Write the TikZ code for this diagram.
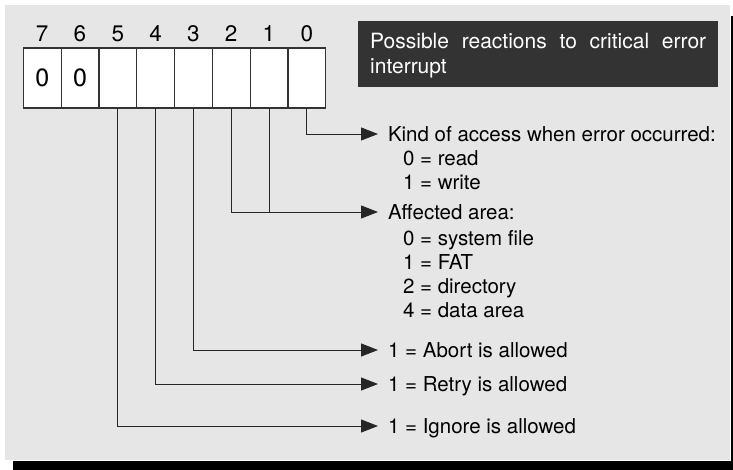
\documentclass[tikz,border=0pt]{standalone}
\usepackage{fontspec}
\setmainfont{TeX Gyre Heros}
\usetikzlibrary{arrows.meta}
\definecolor{panel}{HTML}{E6E6E6}
\definecolor{titlebg}{HTML}{333333}
\begin{document}
\begin{tikzpicture}[x=1pt,y=-1pt,
  lbl/.style={font=\fontsize{20.5}{25}\selectfont, inner sep=0pt, outer sep=0pt, anchor=west, text height=14.7pt, text depth=0pt},
  bitnum/.style={font=\fontsize{22.5}{26}\selectfont, inner sep=0pt, text height=16pt, text depth=0pt},
  conn/.style={draw=black!85, line width=1pt},
  arr/.style={conn, -{Triangle[length=17pt,width=13pt]}},
  cell/.style={draw=black!80, line width=1.2pt, fill=white, minimum width=37.8pt, minimum height=60pt, inner sep=0pt, outer sep=0pt},
  zero/.style={font=\fontsize{25}{28}\selectfont, inner sep=0pt, text height=17.5pt, text depth=0pt},
]
\useasboundingbox (0,0) rectangle (733,469);
\fill[white] (0,0) rectangle (733,469);
\fill[black] (13,16) rectangle (745,480);
\filldraw[fill=panel, draw=white, line width=1.2pt] (4,4) rectangle (730.5,460.8);

% title box
\node[fill=titlebg, minimum width=360pt, minimum height=65.7pt, inner sep=0pt] (title) at (538.2,53.8) {};
\node[text=white, font=\fontsize{21}{25}\selectfont, align=left, inner sep=0pt, anchor=base west] (titletext) at (370,73.3) {\makebox[336pt][s]{Possible reactions to critical error}\\interrupt};

% register cells and bit numbers
\foreach \b [count=\i from 0] in {7,6,5,4,3,2,1,0} {
  \node[cell] (c\b) at ({23.3+37.8*(\i+0.5)},78) {};
  \node[bitnum] (n\b) at ({23.3+37.8*(\i+0.5)},33.5) {\b};
}
\node[zero] (z7) at (c7) {0};
\node[zero] (z6) at (c6) {0};

% texts
\node[lbl] (kind) at (388,134) {Kind of access when error occurred:};
\node[lbl] (read) at (403,158) {0 = read};
\node[lbl] (write) at (403,182) {1 = write};
\node[lbl] (aff) at (388,212) {Affected area:};
\node[lbl] (sys) at (403,238) {0 = system file};
\node[lbl] (fat) at (403,262) {1 = FAT};
\node[lbl] (dir) at (403,286) {2 = directory};
\node[lbl] (data) at (403,310) {4 = data area};
\node[lbl] (abort) at (388,350) {1 = Abort is allowed};
\node[lbl] (retry) at (388,384) {1 = Retry is allowed};
\node[lbl] (ignore) at (388,426) {1 = Ignore is allowed};

% connectors
\draw[arr] (c0.south) |- ([xshift=-10pt]kind.west);
\draw[arr] (c2.south) |- ([xshift=-10pt]aff.west);
\draw[conn] (c1.south) -- (c1.south |- aff.west);
\draw[arr] (c3.south) |- ([xshift=-10pt]abort.west);
\draw[arr] (c4.south) |- ([xshift=-10pt]retry.west);
\draw[arr] (c5.south) |- ([xshift=-10pt]ignore.west);
\end{tikzpicture}
\end{document}
